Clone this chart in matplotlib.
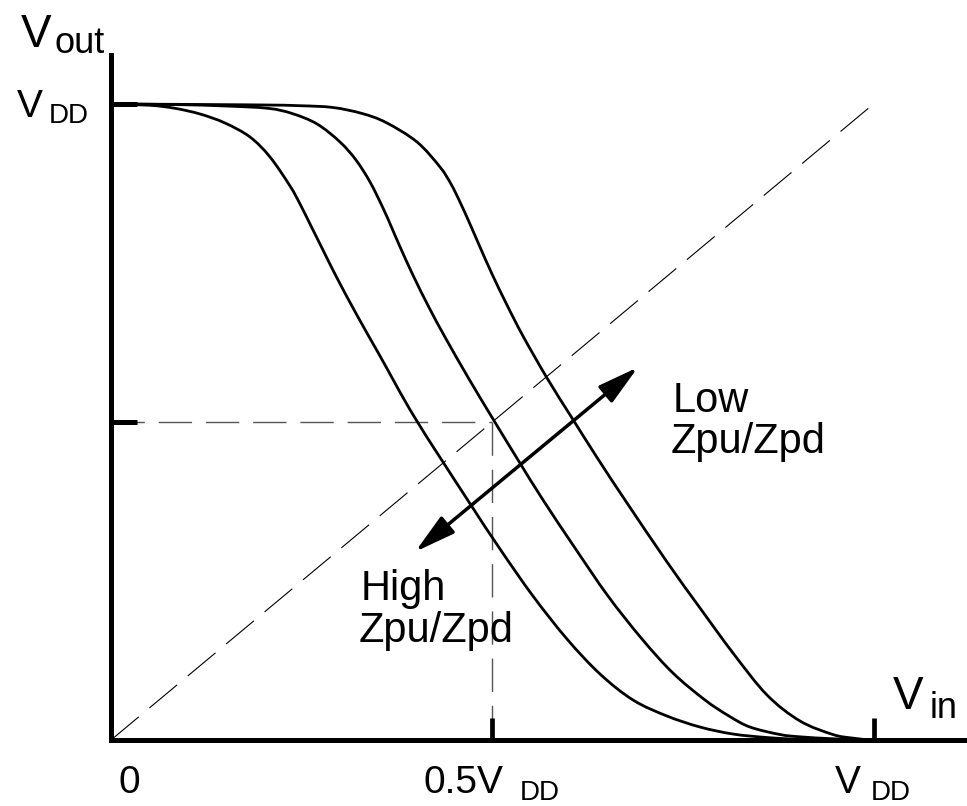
import numpy as np
import matplotlib
matplotlib.use("Agg")
import matplotlib.pyplot as plt
from matplotlib.path import Path
from matplotlib.patches import PathPatch, FancyArrowPatch, ArrowStyle

plt.rcParams['font.family'] = ['Liberation Sans', 'DejaVu Sans']
plt.rcParams['lines.scale_dashes'] = False

# ---------------- data (units of VDD) ----------------
curve_high_x = [0.0, 0.0511, 0.0839, 0.1167, 0.1495, 0.1823, 0.2085, 0.2348, 0.2479, 0.2623,
                0.2767, 0.2964, 0.3239, 0.3528, 0.3987, 0.4669, 0.5102, 0.5534, 0.5980,
                0.6413, 0.6846, 0.7292, 0.7725, 0.8157, 0.8603, 0.9036, 0.9692]
curve_high_y = [1.0, 0.9980, 0.9932, 0.9843, 0.9701, 0.9481, 0.9167, 0.8711, 0.8428, 0.8082,
                0.7736, 0.7264, 0.6651, 0.6038, 0.5063, 0.3789, 0.3003, 0.2264, 0.1588,
                0.1038, 0.0629, 0.0377, 0.0204, 0.0094, 0.0039, 0.0011, 0.0]

curve_mid_x = [0.0, 0.0839, 0.1495, 0.2059, 0.2374, 0.2702, 0.3003, 0.3213, 0.3397, 0.3567,
               0.3685, 0.3790, 0.3961, 0.4170, 0.4380, 0.4695, 0.5010, 0.5338, 0.5666,
               0.6085, 0.6518, 0.6964, 0.7370, 0.7790, 0.8105, 0.8380, 0.8774, 0.9036,
               0.9469, 0.9954]
curve_mid_y = [1.0, 0.9991, 0.9969, 0.9932, 0.9851, 0.9686, 0.9403, 0.9119, 0.8774, 0.8365,
               0.8046, 0.7756, 0.7307, 0.6803, 0.6336, 0.5676, 0.5047, 0.4403, 0.3774,
               0.3019, 0.2264, 0.1588, 0.1053, 0.0629, 0.0377, 0.0204, 0.0086, 0.0050,
               0.0019, 0.0]

curve_low_x = [0.0, 0.1823, 0.2479, 0.2911, 0.3292, 0.3607, 0.4013, 0.4315, 0.4459, 0.4577,
               0.4708, 0.4839, 0.4997, 0.5193, 0.5403, 0.5718, 0.6046, 0.6387, 0.6741,
               0.7292, 0.7725, 0.8157, 0.8603, 0.9036, 0.9469, 0.9718, 0.9954]
curve_low_y = [1.0, 0.9987, 0.9973, 0.9945, 0.9851, 0.9709, 0.9403, 0.9009, 0.8742, 0.8459,
               0.8113, 0.7752, 0.7327, 0.6840, 0.6352, 0.5692, 0.5063, 0.4418, 0.3774,
               0.2799, 0.2075, 0.1368, 0.0708, 0.0299, 0.0086, 0.0031, 0.0]

diag_x = [0.0, 1.0]
diag_y = [0.0, 1.0]
switch_point = 0.5          # Vout = Vin = 0.5 VDD

xtick_vals = [0.5, 1.0]
ytick_vals = [0.5, 1.0]
xtick_main = ['0', '0.5V', 'V']
xtick_sub = ['', 'DD', 'DD']
xtick_pos = [0.0, 0.5, 1.0]
ytick_main = ['V']
ytick_sub = ['DD']
ytick_pos = [1.0]

arrow_tail = (0.399, 0.296)
arrow_head = (0.691, 0.586)

# ---------------- figure ----------------
W, H, DPI = 967, 806, 100
fig = plt.figure(figsize=(W / DPI, H / DPI), dpi=DPI)
ax = fig.add_axes([0, 0, 1, 1])
# pixel geometry: x=0 at px 111, x=1 at px 873.5 ; y=0 at py 740, y=1 at py 104
x0p, sx = 111.0, 762.5
y0p, sy = 740.0, 636.0
ax.set_xlim(-x0p / sx, (W - x0p) / sx)
ax.set_ylim(-(H - y0p) / sy, y0p / sy)
ax.set_facecolor('white')

# axes as spines
for s in ['top', 'right']:
    ax.spines[s].set_visible(False)
ax.spines['left'].set_position(('data', 0))
ax.spines['bottom'].set_position(('data', 0))
ax.spines['left'].set_bounds(0, (y0p - 55) / sy)
ax.spines['bottom'].set_bounds(0, (W - x0p) / sx)
for s in ['left', 'bottom']:
    ax.spines[s].set_linewidth(3.6)
    ax.spines[s].set_capstyle('projecting')
    ax.spines[s].set_zorder(5)
ax.set_xticks(xtick_vals)
ax.set_yticks(ytick_vals)
ax.tick_params(axis='x', direction='in', length=15.5, width=3.4, labelbottom=False)
ax.tick_params(axis='y', direction='in', length=18.5, width=3.6, labelleft=False)

# reference dashed lines
ax.plot(diag_x, diag_y, color='black', lw=0.8, dashes=(26, 10), dash_capstyle='butt',
        zorder=1.5)
ax.plot([0, switch_point], [switch_point, switch_point], color='#555555', lw=1.0,
        dashes=(24, 10), zorder=1.5)
ax.plot([switch_point, switch_point], [switch_point, 0], color='#555555', lw=1.0,
        dashes=(24, 10), zorder=1.5)


def smooth_path(xs, ys):
    pts = np.column_stack([xs, ys]).astype(float)
    n = len(pts)
    verts = [pts[0]]
    codes = [Path.MOVETO]
    for i in range(n - 1):
        p0 = pts[i - 1] if i > 0 else pts[i]
        p1 = pts[i]
        p2 = pts[i + 1]
        p3 = pts[i + 2] if i + 2 < n else pts[i + 1]
        c1 = p1 + (p2 - p0) / 6.0
        c2 = p2 - (p3 - p1) / 6.0
        verts += [c1, c2, p2]
        codes += [Path.CURVE4] * 3
    return Path(verts, codes)


for cx, cy in [(curve_high_x, curve_high_y), (curve_mid_x, curve_mid_y),
               (curve_low_x, curve_low_y)]:
    ax.add_patch(PathPatch(smooth_path(cx, cy), facecolor='none', edgecolor='black',
                           lw=2.0, capstyle='butt', zorder=3))

# double-headed arrow
style = ArrowStyle('<|-|>', head_length=2.5, head_width=0.65)
ax.add_patch(FancyArrowPatch(arrow_tail, arrow_head, arrowstyle=style, mutation_scale=10,
                             color='black', lw=2.5, shrinkA=0, shrinkB=0, zorder=4))

# annotations
MAIN, SUB, ANN = 28, 20, 30
ax.annotate('Low', xy=(673, H - 412), xycoords='figure pixels', fontsize=ANN,
            ha='left', va='baseline')
ax.annotate('Zpu/Zpd', xy=(671, H - 453), xycoords='figure pixels', fontsize=ANN,
            ha='left', va='baseline')
ax.annotate('High', xy=(361, H - 600), xycoords='figure pixels', fontsize=ANN,
            ha='left', va='baseline')
ax.annotate('Zpu/Zpd', xy=(359, H - 642), xycoords='figure pixels', fontsize=ANN,
            ha='left', va='baseline')

# x tick labels (main + subscript), offsets in pixels from the tick position
x_main_dx = [7, -69, -39]
x_sub_dx = [0, 28, -3]
for pos, m, s, mdx, sdx in zip(xtick_pos, xtick_main, xtick_sub, x_main_dx, x_sub_dx):
    ax.annotate(m, xy=(pos, 0), xytext=(mdx, -53), textcoords='offset pixels',
                fontsize=MAIN, ha='left', va='baseline')
    if s:
        ax.annotate(s, xy=(pos, 0), xytext=(sdx, -60), textcoords='offset pixels',
                    fontsize=SUB, ha='left', va='baseline')

# y tick labels
for pos, m, s in zip(ytick_pos, ytick_main, ytick_sub):
    ax.annotate(m, xy=(0, pos), xytext=(-94, -13), textcoords='offset pixels',
                fontsize=MAIN, ha='left', va='baseline')
    ax.annotate(s, xy=(0, pos), xytext=(-62, -19), textcoords='offset pixels',
                fontsize=SUB, ha='left', va='baseline')

# axis titles
ax.annotate('V', xy=(21, H - 47), xycoords='figure pixels', fontsize=33,
            ha='left', va='baseline')
ax.annotate('out', xy=(55, H - 53), xycoords='figure pixels', fontsize=26,
            ha='left', va='baseline')
ax.annotate('V', xy=(893, H - 709), xycoords='figure pixels', fontsize=33,
            ha='left', va='baseline')
ax.annotate('in', xy=(930, H - 718), xycoords='figure pixels', fontsize=26,
            ha='left', va='baseline')

fig.savefig('out.png', dpi=DPI, facecolor='white')
